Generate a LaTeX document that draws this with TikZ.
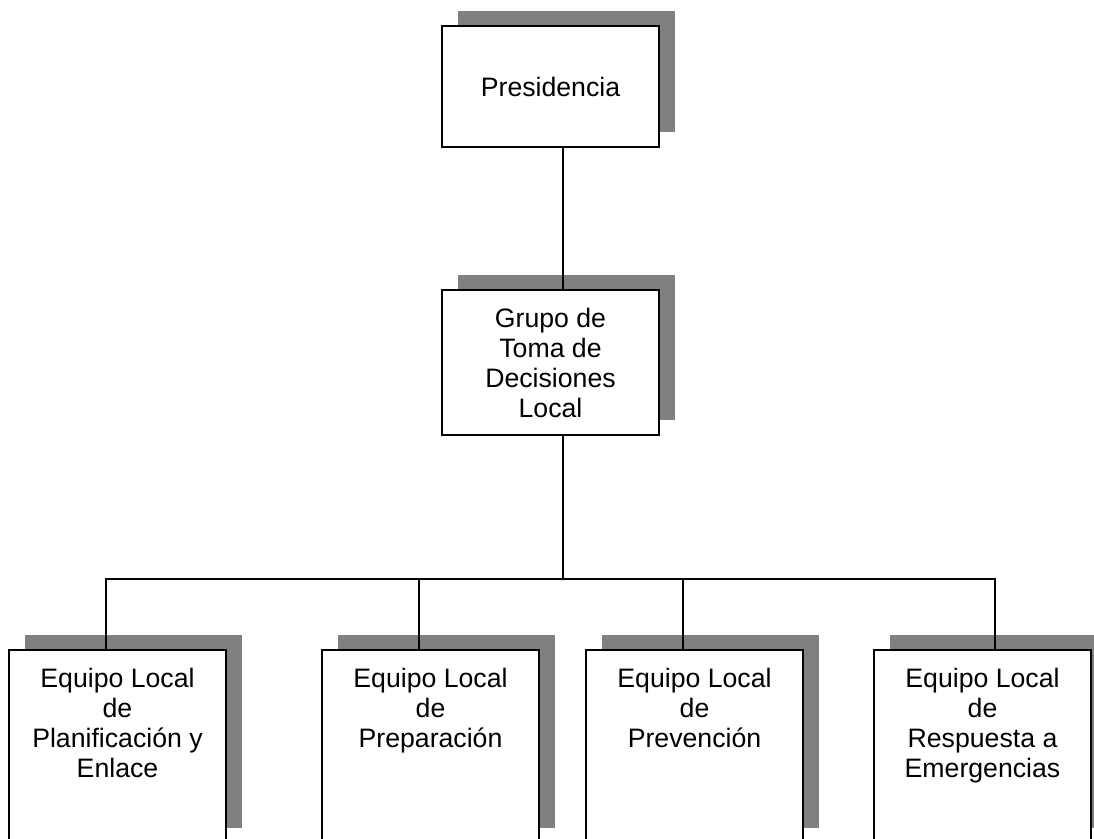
\documentclass[tikz,border=0pt]{standalone}
\usepackage{fontspec}
\setmainfont{Liberation Sans}
\usetikzlibrary{shadows}
\newcommand{\w}{162.75pt}

\begin{document}
\begin{tikzpicture}[x=0.75pt, y=-0.75pt, line width=1.5pt, font=\fontsize{20}{22.5}\selectfont,
    rect/.style={draw, rectangle, fill=white, anchor=north west, minimum width=\w, align=center, inner sep=0pt,
        general shadow={fill=gray, shadow xshift=12pt, shadow yshift=11.25pt}},
    txt/.style={anchor=north, align=center, inner sep=0pt, yshift=-13.5pt}]
    \useasboundingbox (0,0) rectangle (1094,838);

    % Top
    \node[rect, minimum height=90.75pt] (top) at (441,25) {Presidencia};
    \node[rect, minimum height=108.75pt] (mid) at (441,289) {Grupo de\\Toma de\\Decisiones\\Local};

    % Teams
    \node[rect, minimum height=144.75pt, label={[txt]north:{Equipo Local\\de\\Planificación y\\Enlace}}] (team-1) at (8,649) {};
    \node[rect, minimum height=144.75pt, label={[txt]north:{Equipo Local\\de\\Preparación}}] (team-2) at (321,649) {};
    \node[rect, minimum height=144.75pt, label={[txt]north:{Equipo Local\\de\\Prevención}}] (team-3) at (585,649) {};
    \node[rect, minimum height=144.75pt, label={[txt]north:{Equipo Local\\de\\Respuesta a\\Emergencias}}] (team-4) at (873,649) {};

    % Lines
    \path ([xshift=9.4pt]mid.south) ++(0,143) coordinate (bus);
    \draw ([xshift=9.4pt]top.south) -- ([xshift=9.4pt]mid.north);
    \draw ([xshift=9.4pt]mid.south) -- (bus);
    \draw ([xshift=-9pt]team-1.north) |- (bus) -| ([xshift=9pt]team-4.north);
    \draw ([xshift=-9pt]team-2.north) -- ([xshift=-9pt]team-2.north |- bus);
    \draw ([xshift=-9pt]team-3.north) -- ([xshift=-9pt]team-3.north |- bus);

\end{tikzpicture}
\end{document}
